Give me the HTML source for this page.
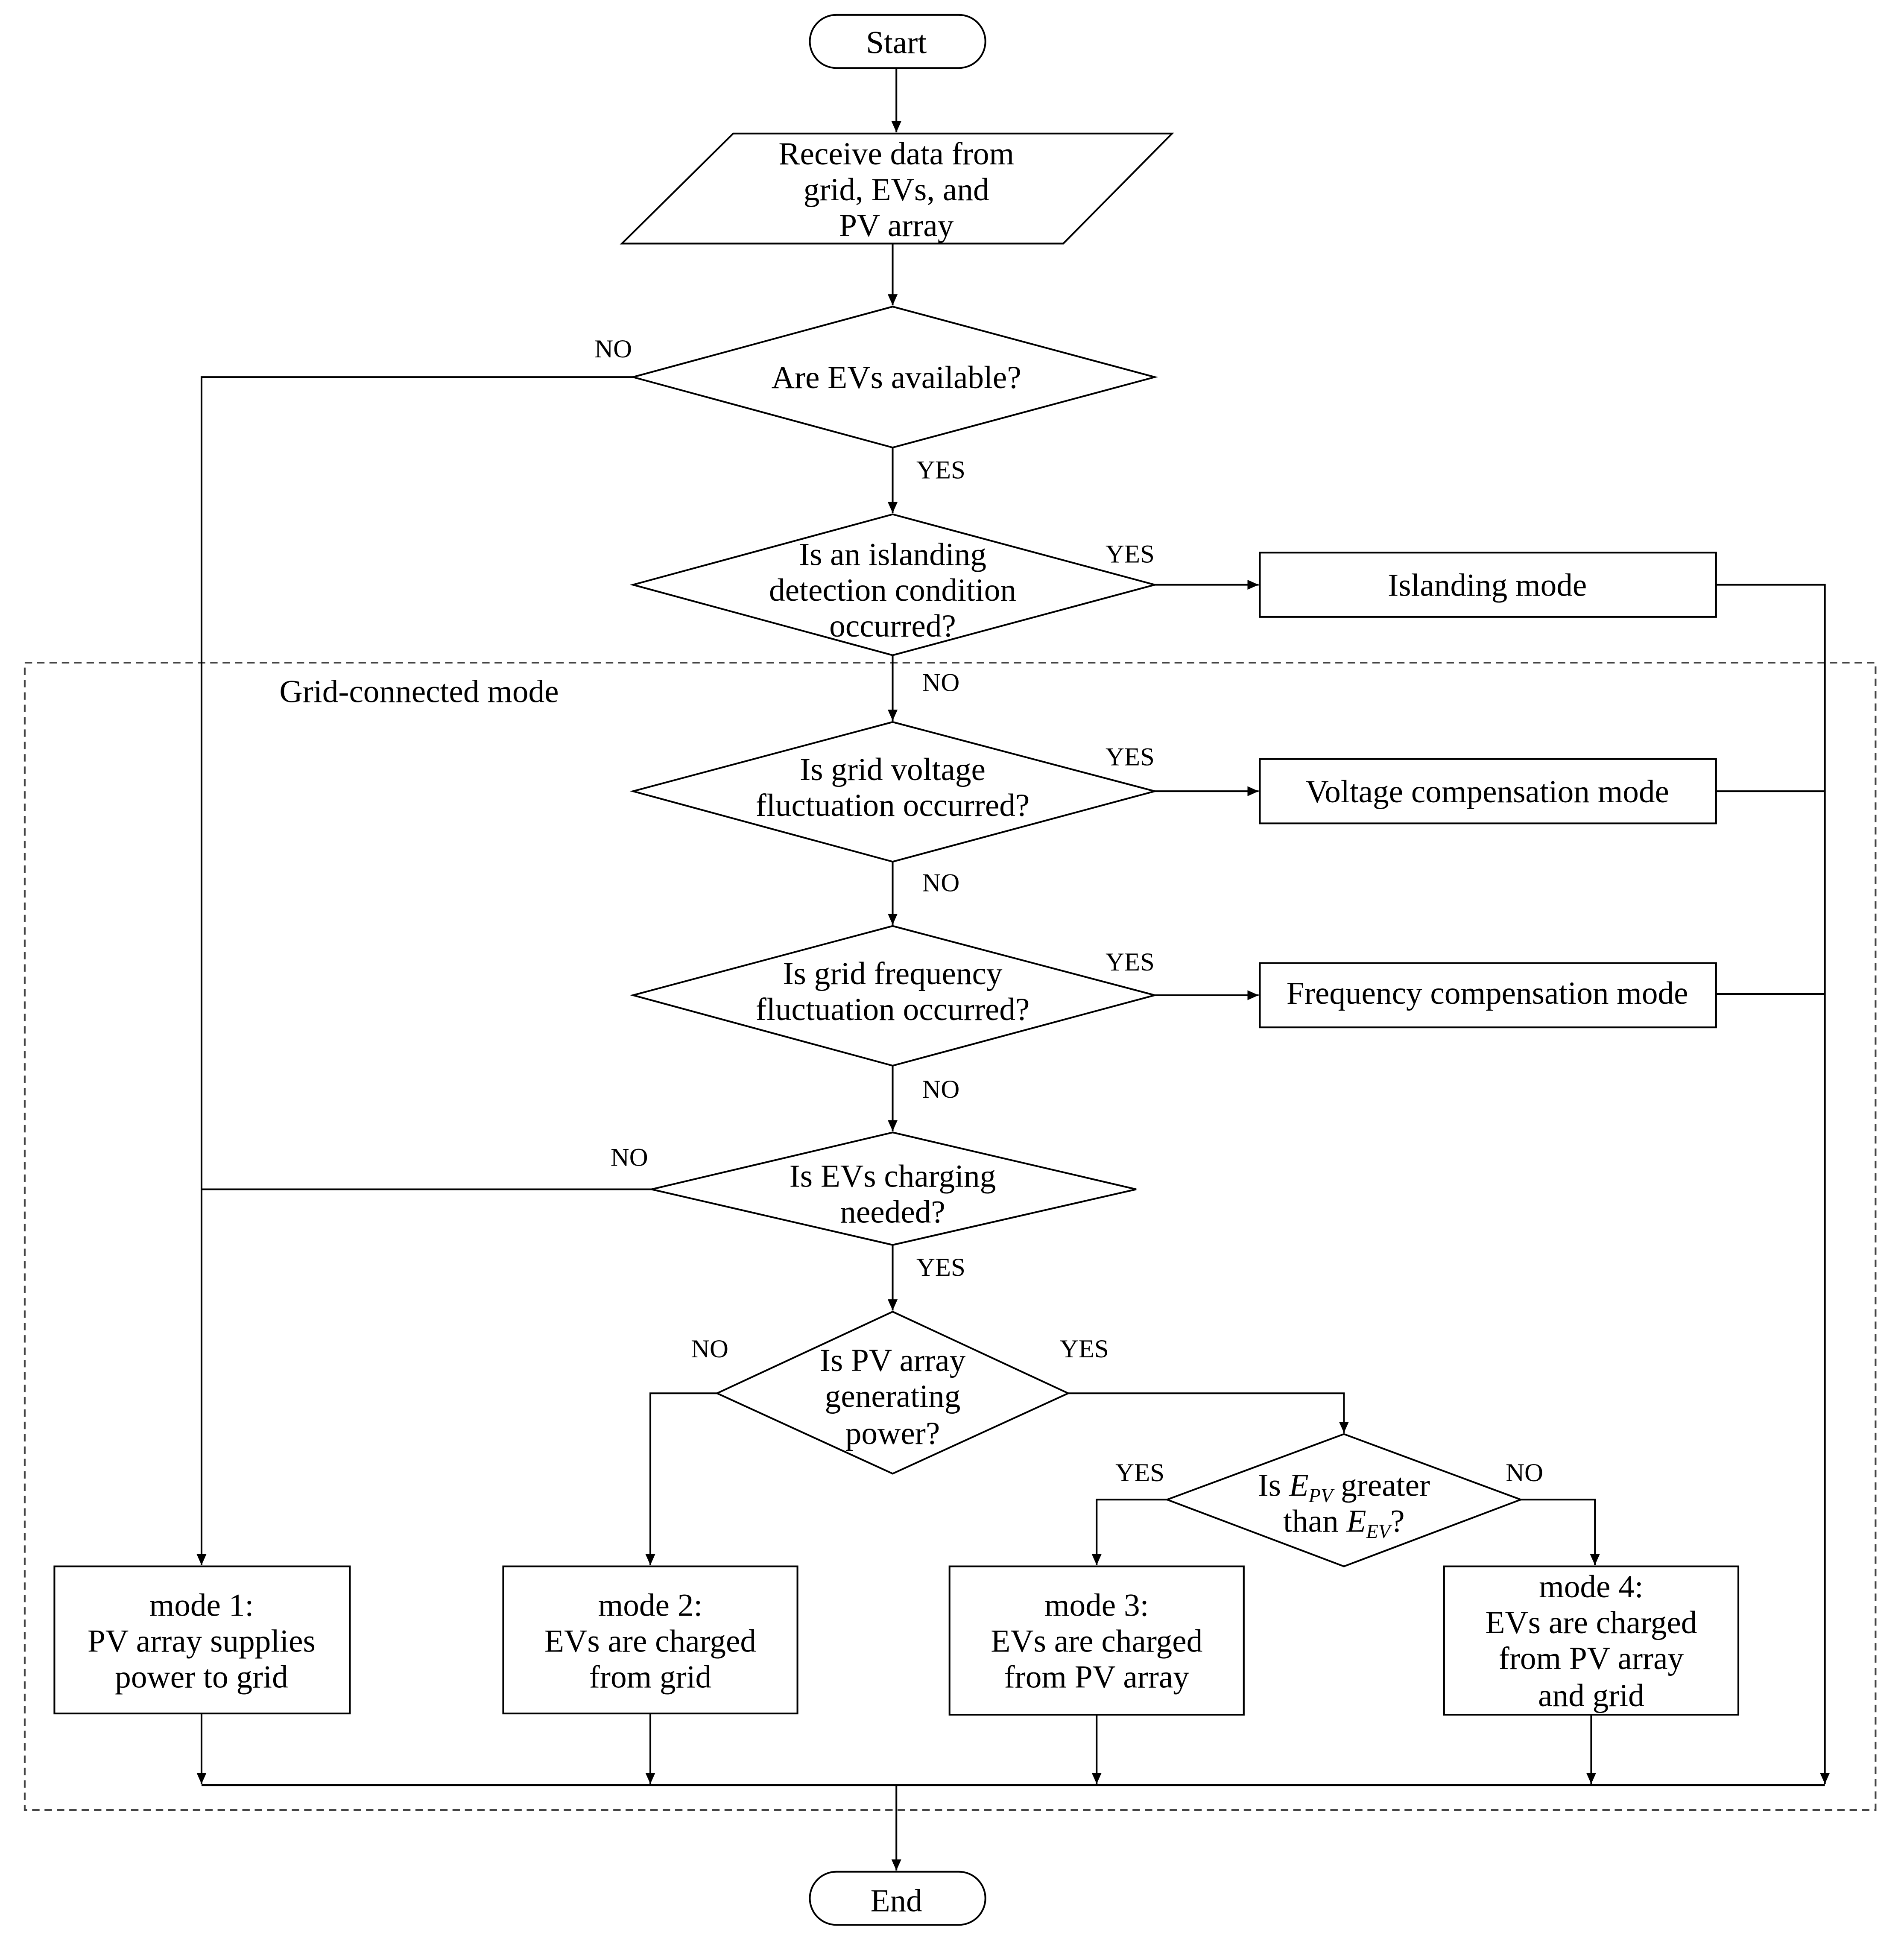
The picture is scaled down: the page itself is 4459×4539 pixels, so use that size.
<!DOCTYPE html>
<html><head><meta charset="utf-8"><style>
html,body{margin:0;padding:0;background:#fff}
svg{display:block}
text{font-family:"Liberation Serif",serif;font-size:26px;fill:#000}
.l{font-size:21px}
</style></head><body>
<svg width="4459" height="4539" viewBox="0 0 1540 1567.6" xmlns="http://www.w3.org/2000/svg">
<defs><marker id="a" markerWidth="10" markerHeight="10" refX="9" refY="4" orient="auto" markerUnits="userSpaceOnUse"><path d="M0,0 L9,4 L0,8 z" fill="#000"/></marker></defs>
<g fill="none" stroke="#000" stroke-width="1.4">
<rect x="20" y="536" width="1497" height="928" stroke="#444" stroke-dasharray="6,4"/>
<rect x="655" y="12" width="142" height="43" rx="21.5"/>
<rect x="655" y="1514" width="142" height="43" rx="21.5"/>
<polygon points="593,108 948,108 860,197 503,197"/>
<polygon points="722,248 934,305 722,362 512,305"/>
<polygon points="722,416 934,473 722,530 512,473"/>
<polygon points="722,584 934,640 722,697 512,640"/>
<polygon points="722,749 934,805 722,862 512,805"/>
<polygon points="722,916 919,962 722,1007 527,962"/>
<polygon points="722,1061 864,1127 722,1192 580,1127"/>
<polygon points="1087,1160 1230,1213 1087,1267 944,1213"/>
<rect x="1019" y="447" width="369" height="52"/>
<rect x="1019" y="614" width="369" height="52"/>
<rect x="1019" y="779" width="369" height="52"/>
<rect x="44" y="1267" width="239" height="119"/>
<rect x="407" y="1267" width="238" height="119"/>
<rect x="768" y="1267" width="238" height="120"/>
<rect x="1168" y="1267" width="238" height="120"/>
<g marker-end="url(#a)">
<line x1="725" y1="55" x2="725" y2="107"/>
<line x1="722" y1="197" x2="722" y2="247"/>
<line x1="722" y1="362" x2="722" y2="415"/>
<line x1="722" y1="530" x2="722" y2="583"/>
<line x1="722" y1="697" x2="722" y2="748"/>
<line x1="722" y1="862" x2="722" y2="915"/>
<line x1="722" y1="1007" x2="722" y2="1060"/>
<line x1="934" y1="473" x2="1018" y2="473"/>
<line x1="934" y1="640" x2="1018" y2="640"/>
<line x1="934" y1="805" x2="1018" y2="805"/>
<polyline points="512,305 163,305 163,1266"/>
<polyline points="580,1127 526,1127 526,1266"/>
<polyline points="864,1127 1087,1127 1087,1159"/>
<polyline points="944,1213 887,1213 887,1266"/>
<polyline points="1230,1213 1290,1213 1290,1266"/>
<polyline points="1388,473 1476,473 1476,1443"/>
<line x1="163" y1="1386" x2="163" y2="1443"/>
<line x1="526" y1="1386" x2="526" y2="1443"/>
<line x1="887" y1="1387" x2="887" y2="1443"/>
<line x1="1287" y1="1387" x2="1287" y2="1443"/>
<line x1="725" y1="1444" x2="725" y2="1513"/>
</g>
<line x1="527" y1="962" x2="163" y2="962"/>
<line x1="1388" y1="640" x2="1476" y2="640"/>
<line x1="1388" y1="804" x2="1476" y2="804"/>
<line x1="163" y1="1444" x2="1476" y2="1444"/>
</g>
<g text-anchor="middle">
<text x="725" y="43">Start</text>
<text x="725" y="1546">End</text>
<text x="725" y="133">Receive data from</text>
<text x="725" y="162">grid, EVs, and</text>
<text x="725" y="191">PV array</text>
<text x="725" y="314">Are EVs available?</text>
<text x="722" y="457">Is an islanding</text>
<text x="722" y="486">detection condition</text>
<text x="722" y="515">occurred?</text>
<text x="722" y="631">Is grid voltage</text>
<text x="722" y="660">fluctuation occurred?</text>
<text x="722" y="796">Is grid frequency</text>
<text x="722" y="825">fluctuation occurred?</text>
<text x="722" y="960">Is EVs charging</text>
<text x="722" y="989">needed?</text>
<text x="722" y="1109">Is PV array</text>
<text x="722" y="1138">generating</text>
<text x="722" y="1168">power?</text>
<text x="1087" y="1210">Is <tspan font-style="italic">E</tspan><tspan font-style="italic" font-size="16" dy="5">PV</tspan><tspan dy="-5"> greater</tspan></text>
<text x="1087" y="1239">than <tspan font-style="italic">E</tspan><tspan font-style="italic" font-size="16" dy="5">EV</tspan><tspan dy="-5">?</tspan></text>
<text x="1203" y="482">Islanding mode</text>
<text x="1203" y="649">Voltage compensation mode</text>
<text x="1203" y="812">Frequency compensation mode</text>
<text x="163" y="1307">mode 1:</text>
<text x="163" y="1336">PV array supplies</text>
<text x="163" y="1365">power to grid</text>
<text x="526" y="1307">mode 2:</text>
<text x="526" y="1336">EVs are charged</text>
<text x="526" y="1365">from grid</text>
<text x="887" y="1307">mode 3:</text>
<text x="887" y="1336">EVs are charged</text>
<text x="887" y="1365">from PV array</text>
<text x="1287" y="1292">mode 4:</text>
<text x="1287" y="1321">EVs are charged</text>
<text x="1287" y="1350">from PV array</text>
<text x="1287" y="1380">and grid</text>
</g>
<g text-anchor="middle">
<text class="l" x="496" y="289">NO</text>
<text class="l" x="761" y="387">YES</text>
<text class="l" x="914" y="455">YES</text>
<text class="l" x="761" y="559">NO</text>
<text class="l" x="914" y="619">YES</text>
<text class="l" x="761" y="721">NO</text>
<text class="l" x="914" y="785">YES</text>
<text class="l" x="761" y="888">NO</text>
<text class="l" x="509" y="943">NO</text>
<text class="l" x="761" y="1032">YES</text>
<text class="l" x="574" y="1098">NO</text>
<text class="l" x="877" y="1098">YES</text>
<text class="l" x="922" y="1198">YES</text>
<text class="l" x="1233" y="1198">NO</text>
</g>
<text x="226" y="568">Grid-connected mode</text>
</svg>
</body></html>
